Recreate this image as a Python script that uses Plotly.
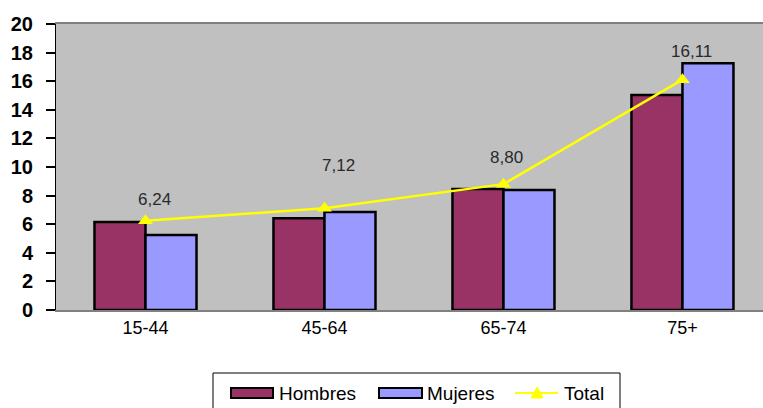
import plotly.graph_objects as go

# Age groups and rates
categories = ["15-44", "45-64", "65-74", "75+"]
hombres = [6.15, 6.41, 8.46, 15.03]
mujeres = [5.24, 6.85, 8.39, 17.25]
total = [6.24, 7.12, 8.80, 16.11]
total_labels = ["6,24", "7,12", "8,80", "16,11"]

# pixel offsets (dx, dy) of each total label from its marker
label_offsets = [(9, 21), (14, 43), (3, 27), (9, 28)]

W, H = 763, 408
L, R_EDGE, T, B = 56, 763, 24, 310

C_H = "#993366"
C_M = "#9999FF"
C_T = "#FFFF00"
FONT = "Liberation Sans, Arial, sans-serif"


def px(x):
    return (x - L) / (R_EDGE - L)


def py(y):
    return (B - y) / (B - T)


fig = go.Figure()
fig.add_trace(go.Bar(
    x=categories, y=hombres, name="Hombres",
    marker=dict(color=C_H, line=dict(color="black", width=2.5)),
    showlegend=False,
))
fig.add_trace(go.Bar(
    x=categories, y=mujeres, name="Mujeres",
    marker=dict(color=C_M, line=dict(color="black", width=2.5)),
    showlegend=False,
))
fig.add_trace(go.Scatter(
    x=categories, y=total, name="Total", mode="lines+markers",
    line=dict(color=C_T, width=2.5),
    marker=dict(symbol="triangle-up", size=13, color=C_T),
    showlegend=False,
))

annotations = []
for cat, val, txt, (dx, dy) in zip(categories, total, total_labels, label_offsets):
    annotations.append(dict(
        x=cat, y=val, text=txt, showarrow=False,
        xshift=dx, yshift=dy, xanchor="center", yanchor="middle",
        font=dict(family=FONT, size=17, color="#2a2a2a"),
    ))

# legend drawn as a framed row below the chart
shapes = [
    dict(type="rect", xref="paper", yref="paper",
         x0=px(213), x1=px(620), y0=py(414), y1=py(373),
         line=dict(color="black", width=1), fillcolor="white"),
    dict(type="rect", xref="paper", yref="paper",
         x0=px(231), x1=px(273), y0=py(398), y1=py(388),
         line=dict(color="black", width=2), fillcolor=C_H),
    dict(type="rect", xref="paper", yref="paper",
         x0=px(379), x1=px(422), y0=py(398), y1=py(388),
         line=dict(color="black", width=2), fillcolor=C_M),
    dict(type="line", xref="paper", yref="paper",
         x0=px(515), x1=px(558), y0=py(393), y1=py(393),
         line=dict(color=C_T, width=2)),
    dict(type="path", xref="paper", yref="paper",
         path=(f"M {px(531)} {py(398)} L {px(543)} {py(398)} "
               f"L {px(537)} {py(387)} Z"),
         line=dict(color=C_T, width=1), fillcolor=C_T),
]
for x0, txt in [(277, "Hombres"), (425, "Mujeres"), (562, "Total")]:
    annotations.append(dict(
        x=px(x0), y=py(393), xref="paper", yref="paper", text=txt,
        showarrow=False, xanchor="left", yanchor="middle",
        font=dict(family=FONT, size=19, color="black"),
    ))

fig.update_layout(
    width=W, height=H,
    margin=dict(l=L, r=W - R_EDGE, t=T, b=H - B, pad=0),
    paper_bgcolor="white", plot_bgcolor="#C0C0C0",
    barmode="group", bargap=0.43, bargroupgap=0,
    annotations=annotations, shapes=shapes,
    showlegend=False,
)
fig.update_xaxes(
    type="category", range=[-0.5, 3.45],
    showline=True, linecolor="#808080", linewidth=2, mirror=True,
    ticks="", showgrid=False, layer="below traces",
    tickfont=dict(family=FONT, size=18, color="black"),
)
fig.update_yaxes(
    range=[0, 20], dtick=2, tick0=0,
    showline=True, linecolor="black", linewidth=1,
    ticks="outside", ticklen=9, tickwidth=2, tickcolor="black",
    showgrid=False, zeroline=False, ticklabelstandoff=9,
    tickfont=dict(family=FONT, size=20, color="black", weight="bold"),
)

fig.write_html("out.html")
